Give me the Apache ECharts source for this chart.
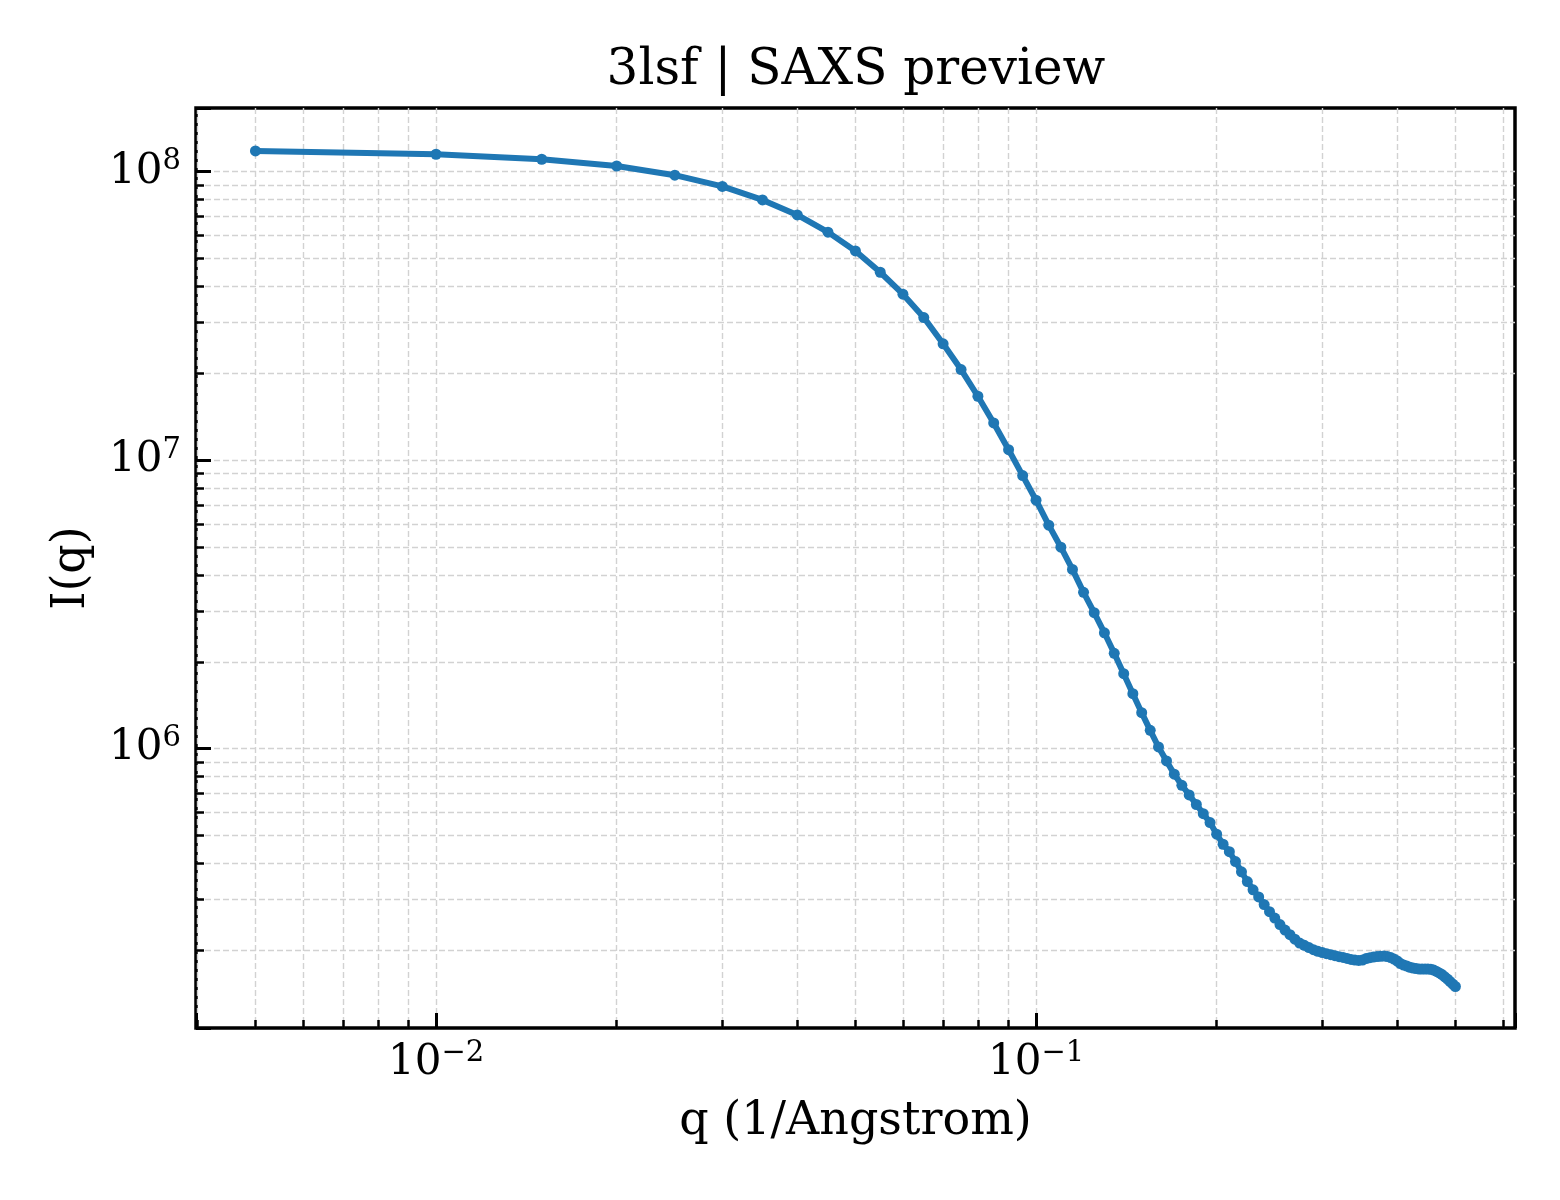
<!DOCTYPE html>
<html><head><meta charset="utf-8">
<script src="https://cdn.jsdelivr.net/npm/echarts@6/dist/echarts.min.js"></script>
<style>html,body{margin:0;padding:0;background:#fff}#c{width:1560px;height:1200px}</style>
</head><body><div id="c"></div>
<script>
const chartTitle = '3lsf | SAXS preview';
const xAxisTitle = 'q (1/Angstrom)';
const yAxisTitle = 'I(q)';

const qValues = [
  0.005, 0.010, 0.015, 0.020, 0.025, 0.030, 0.035, 0.040, 0.045, 0.050,
  0.055, 0.060, 0.065, 0.070, 0.075, 0.080, 0.085, 0.090, 0.095, 0.100,
  0.105, 0.110, 0.115, 0.120, 0.125, 0.130, 0.135, 0.140, 0.145, 0.150,
  0.155, 0.160, 0.165, 0.170, 0.175, 0.180, 0.185, 0.190, 0.195, 0.200,
  0.205, 0.210, 0.215, 0.220, 0.225, 0.230, 0.235, 0.240, 0.245, 0.250,
  0.255, 0.260, 0.265, 0.270, 0.275, 0.280, 0.285, 0.290, 0.295, 0.300,
  0.305, 0.310, 0.315, 0.320, 0.325, 0.330, 0.335, 0.340, 0.345, 0.350,
  0.355, 0.360, 0.365, 0.370, 0.375, 0.380, 0.385, 0.390, 0.395, 0.400,
  0.405, 0.410, 0.415, 0.420, 0.425, 0.430, 0.435, 0.440, 0.445, 0.450,
  0.455, 0.460, 0.465, 0.470, 0.475, 0.480, 0.485, 0.490, 0.495, 0.500
];

const intensity = [
  1.180e8, 1.149e8, 1.104e8, 1.046e8, 9.72e7, 8.89e7, 7.98e7, 7.08e7, 6.17e7, 5.31e7,
  4.48e7, 3.76e7, 3.12e7, 2.53e7, 2.06e7, 1.665e7, 1.345e7, 1.087e7, 8.84e6, 7.26e6,
  5.95e6, 4.99e6, 4.18e6, 3.48e6, 2.96e6, 2.52e6, 2.14e6, 1.818e6, 1.55e6, 1.332e6,
  1.157e6, 1.013e6, 9.06e5, 8.15e5, 7.46e5, 6.91e5, 6.40e5, 5.95e5, 5.54e5, 5.05e5,
  4.66e5, 4.39e5, 4.06e5, 3.74e5, 3.46e5, 3.24e5, 3.06e5, 2.88e5, 2.72e5, 2.585e5,
  2.455e5, 2.35e5, 2.265e5, 2.185e5, 2.117e5, 2.08e5, 2.042e5, 2.009e5, 1.983e5, 1.963e5,
  1.945e5, 1.930e5, 1.915e5, 1.900e5, 1.888e5, 1.873e5, 1.858e5, 1.848e5, 1.844e5, 1.850e5,
  1.871e5, 1.884e5, 1.894e5, 1.901e5, 1.906e5, 1.909e5, 1.901e5, 1.886e5, 1.864e5, 1.835e5,
  1.798e5, 1.777e5, 1.763e5, 1.745e5, 1.735e5, 1.727e5, 1.721e5, 1.721e5, 1.721e5, 1.720e5,
  1.718e5, 1.707e5, 1.689e5, 1.669e5, 1.647e5, 1.617e5, 1.589e5, 1.557e5, 1.527e5, 1.497e5
];

const xRange = [0.00398, 0.6285];
const yRange = [1.075e5, 1.662e8];

const FONT = 'DejaVu Serif';
const GRID_COLOR = '#d2d2d2';

function powLabel(v) {
  const e = Math.round(Math.log10(v));
  const s = e < 0 ? '\u2212' + (-e) : String(e);
  return '{b|10}{s|' + s + '}';
}
const labelRich = {
  b: { fontFamily: FONT, fontSize: 42, lineHeight: 50, color: '#000' },
  s: { fontFamily: FONT, fontSize: 29, color: '#000', padding: [0, 0, 20, 0] }
};

function mainAxis(isX) {
  return {
    type: 'log', logBase: 10,
    min: isX ? xRange[0] : yRange[0],
    max: isX ? xRange[1] : yRange[1],
    position: isX ? 'bottom' : 'left',
    name: isX ? xAxisTitle : yAxisTitle,
    nameLocation: 'middle',
    nameGap: isX ? 71 : 101,
    nameTextStyle: { fontFamily: FONT, fontSize: 46, color: '#000' },
    axisLine: { show: false },
    axisTick: { show: true, inside: true, length: 15, lineStyle: { color: '#000', width: 3 } },
    minorTick: { show: true, splitNumber: 9, length: 8, lineStyle: { color: '#000', width: 2.5 } },
    axisLabel: {
      show: true, margin: isX ? 10 : 15, showMinLabel: false, showMaxLabel: false,
      formatter: powLabel, rich: labelRich
    },
    splitLine: { show: true, showMinLine: false, showMaxLine: false,
      lineStyle: { color: GRID_COLOR, width: 1.4, type: [6, 3] } },
    minorSplitLine: { show: true, lineStyle: { color: GRID_COLOR, width: 1.4, type: [6, 3] } }
  };
}

const chart = echarts.init(document.getElementById('c'), null, { renderer: 'canvas' });
chart.setOption({
  animation: false,
  backgroundColor: '#fff',
  title: {
    text: chartTitle, left: 851, top: 41, textAlign: 'center',
    textStyle: { fontFamily: FONT, fontSize: 50, fontWeight: 'normal', color: '#000' }
  },
  grid: {
    left: 196, right: 45, top: 108, bottom: 172,
    show: true, borderColor: '#000', borderWidth: 3.5, backgroundColor: 'transparent'
  },
  xAxis: [mainAxis(true)],
  yAxis: [mainAxis(false)],
  series: [{
    type: 'line',
    data: qValues.map((q, i) => [q, intensity[i]]),
    showSymbol: true, symbol: 'circle', symbolSize: 11,
    lineStyle: { color: '#1f77b4', width: 6 },
    itemStyle: { color: '#1f77b4' },
    z: 5
  }]
});
</script>
</body></html>
